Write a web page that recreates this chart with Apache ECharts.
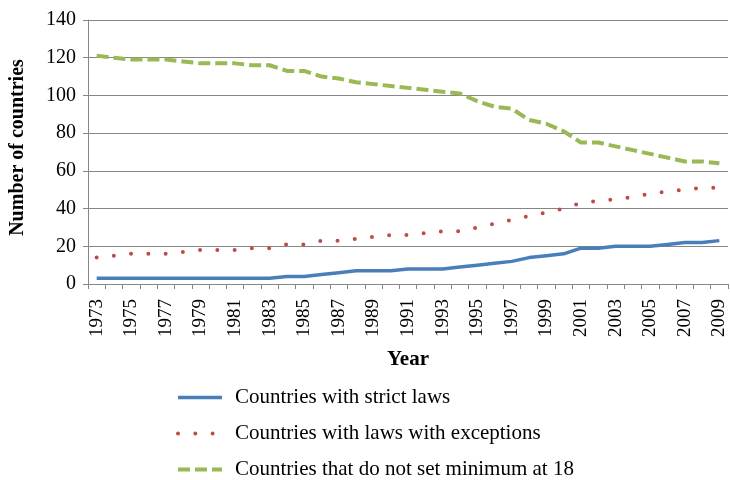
<!DOCTYPE html>
<html>
<head>
<meta charset="utf-8">
<script src="https://cdn.jsdelivr.net/npm/echarts@6/dist/echarts.min.js"></script>
<style>
  html, body { margin: 0; padding: 0; background: #fff; }
  #chart { width: 730px; height: 480px; }
</style>
</head>
<body>
<div id="chart"></div>
<script>
var years = ['1973', '1974', '1975', '1976', '1977', '1978', '1979', '1980', '1981', '1982',
  '1983', '1984', '1985', '1986', '1987', '1988', '1989', '1990', '1991', '1992',
  '1993', '1994', '1995', '1996', '1997', '1998', '1999', '2000', '2001', '2002',
  '2003', '2004', '2005', '2006', '2007', '2008', '2009']

var strictLaws = [3, 3, 3, 3, 3, 3, 3, 3, 3, 3, 3, 4, 4, 5, 6, 7, 7, 7, 8, 8,
  8, 9, 10, 11, 12, 14, 15, 16, 19, 19, 20, 20, 20, 21, 22, 22, 23]

var withExceptions = [14, 15, 16, 16, 16, 17, 18, 18, 18, 19, 19, 21, 21, 23, 23, 24, 25, 26, 26, 27,
  28, 28, 30, 32, 34, 36, 38, 40, 43, 44, 45, 46, 48, 49, 50, 51, 51]

var notAt18 = [121, 120, 119, 119, 119, 118, 117, 117, 117, 116, 116, 113, 113, 110, 109, 107, 106, 105, 104, 103,
  102, 101, 97, 94, 93, 87, 85, 81, 75, 75, 73, 71, 69, 67, 65, 65, 64]

var seriesNames = [
  'Countries with strict laws',
  'Countries with laws with exceptions',
  'Countries that do not set minimum at 18'
]

var serif = '"Liberation Serif", "DejaVu Serif", serif'
var axisGray = '#868686'
var blue = '#4a7ebb'
var red = '#be4b48'
var green = '#98b954'

var lineStyles = [
  { color: blue, width: 3.5 },
  { color: red, width: 4, type: [0, 17.3], cap: 'round' },
  { color: green, width: 4, type: [12, 5] }
]

var chart = echarts.init(document.getElementById('chart'))

chart.setOption({
  animation: false,
  textStyle: { fontFamily: serif, color: '#000' },
  grid: {
    left: 87,
    right: 2,
    top: 20,
    bottom: 196
  },
  legend: {
    orient: 'vertical',
    left: 171,
    top: 382,
    height: 120,
    itemWidth: 44,
    itemHeight: 14,
    itemGap: 15,
    itemStyle: { opacity: 0 },
    textStyle: { fontFamily: serif, fontSize: 21, color: '#000', padding: [0, 0, 0, 8] },
    data: seriesNames.map(function (name, i) {
      return { name: name, lineStyle: lineStyles[i] }
    })
  },
  xAxis: {
    type: 'category',
    data: years,
    boundaryGap: true,
    name: 'Year',
    nameLocation: 'middle',
    nameGap: 65,
    nameTextStyle: { fontFamily: serif, fontSize: 21, fontWeight: 'bold', color: '#000' },
    axisLine: { lineStyle: { color: axisGray, width: 1 } },
    axisTick: { show: true, interval: 0, length: 5, lineStyle: { color: axisGray } },
    axisLabel: {
      interval: 1,
      rotate: 90,
      margin: 15,
      fontFamily: serif,
      fontSize: 19,
      color: '#000'
    }
  },
  yAxis: {
    type: 'value',
    min: 0,
    max: 140,
    interval: 20,
    name: 'Number of countries',
    nameLocation: 'middle',
    nameGap: 60,
    nameTextStyle: { fontFamily: serif, fontSize: 20, fontWeight: 'bold', color: '#000', padding: [0, 0, 0, 9] },
    axisLine: { show: true, lineStyle: { color: axisGray, width: 1 } },
    axisTick: { show: true, length: 5, lineStyle: { color: axisGray } },
    axisLabel: { margin: 12, fontFamily: serif, fontSize: 20, color: '#000' },
    splitLine: { lineStyle: { color: axisGray, width: 1 } }
  },
  series: [
    {
      name: seriesNames[0],
      type: 'line',
      data: strictLaws,
      symbol: 'none',
      color: blue,
      lineStyle: lineStyles[0]
    },
    {
      name: seriesNames[1],
      type: 'line',
      data: withExceptions,
      symbol: 'none',
      color: red,
      lineStyle: lineStyles[1]
    },
    {
      name: seriesNames[2],
      type: 'line',
      data: notAt18,
      symbol: 'none',
      color: green,
      lineStyle: lineStyles[2]
    }
  ]
})
</script>
</body>
</html>
